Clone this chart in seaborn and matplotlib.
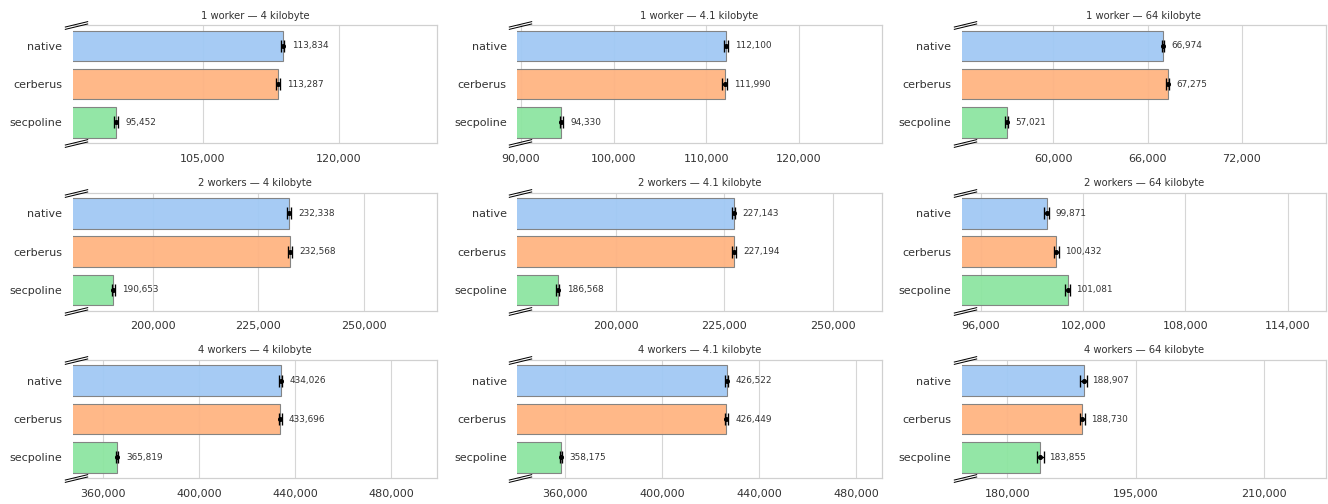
import matplotlib
matplotlib.use("Agg")
import matplotlib.pyplot as plt
from matplotlib.path import Path
from matplotlib.ticker import MaxNLocator, FuncFormatter
import numpy as np
import pandas as pd
import seaborn as sns

# Implementations compared in every panel
impls = ["native", "cerberus", "secpoline"]
workers = [1, 2, 4]
sizes = ["4", "4.1", "64"]

# Mean throughput per (workers, message size), ordered like impls
means = {
    (1, "4"): [113834, 113287, 95452],
    (1, "4.1"): [112100, 111990, 94330],
    (1, "64"): [66974, 67275, 57021],
    (2, "4"): [232338, 232568, 190653],
    (2, "4.1"): [227143, 227194, 186568],
    (2, "64"): [99871, 100432, 101081],
    (4, "4"): [434026, 433696, 365819],
    (4, "4.1"): [426522, 426449, 358175],
    (4, "64"): [188907, 188730, 183855],
}

# Half-width of the confidence interval for each mean
errors = {
    (1, "4"): [200, 200, 200],
    (1, "4.1"): [220, 250, 160],
    (1, "64"): [80, 80, 100],
    (2, "4"): [400, 400, 400],
    (2, "4.1"): [400, 400, 350],
    (2, "64"): [150, 170, 130],
    (4, "4"): [600, 600, 600],
    (4, "4.1"): [600, 600, 500],
    (4, "64"): [370, 300, 370],
}

sns.set_theme(style="whitegrid", rc={"grid.color": "#d6d6d6",
                                     "grid.linewidth": 1.0})
palette = sns.color_palette("pastel")[:3]

fig, axes = plt.subplots(3, 3, figsize=(16.6, 6.3), dpi=80)
fig.subplots_adjust(left=0.055, right=0.9985, top=0.950, bottom=0.0516,
                    wspace=0.22, hspace=0.42)

# Double slash used to flag the truncated value axis
break_path = Path(
    [(-1, -0.34), (1, 0.14), (-1, -0.14), (1, 0.34)],
    [Path.MOVETO, Path.LINETO, Path.MOVETO, Path.LINETO],
)

comma = FuncFormatter(lambda v, _: f"{v:,.0f}")

for r, w in enumerate(workers):
    for c, s in enumerate(sizes):
        ax = axes[r, c]
        vals = means[(w, s)]
        errs = errors[(w, s)]
        df = pd.DataFrame({"impl": impls, "value": vals})
        sns.barplot(data=df, x="value", y="impl", hue="impl", palette=palette,
                    order=impls, hue_order=impls, errorbar=None, legend=False,
                    saturation=1, alpha=0.95, edgecolor="#7f7f7f",
                    linewidth=1.0, ax=ax)
        ypos = np.arange(len(impls))
        ax.errorbar(vals, ypos, xerr=errs, fmt="o", color="black",
                    markersize=3.5, capsize=5, elinewidth=1.2, capthick=1.2,
                    zorder=5)
        for v, y in zip(vals, ypos):
            ax.annotate(f"{v:,}", (v, y), xytext=(8, 0),
                        textcoords="offset points", va="center", ha="left",
                        fontsize=8, color="#333333")

        ax.set_xlim(min(vals) * 0.95, max(vals) * 1.15)
        ax.xaxis.set_major_locator(
            MaxNLocator(nbins=4, steps=[1, 1.5, 2, 2.5, 3, 4, 5, 6, 8, 10]))
        ax.xaxis.set_major_formatter(comma)
        ax.set_xlabel("")
        ax.set_ylabel("")
        ax.tick_params(axis="both", labelsize=10, colors="#333333", length=0,
                       pad=9.5)
        ax.spines["left"].set_visible(False)
        for sp in ("top", "right", "bottom"):
            ax.spines[sp].set_color("#d0d0d0")
            ax.spines[sp].set_linewidth(1.1)
        ax.set_axisbelow(True)

        plural = "worker" if w == 1 else "workers"
        ax.set_title(f"{w} {plural} \u2014 {s} kilobyte", fontsize=9,
                     color="#333333", pad=6)

        for yb in (0.0, 1.0):
            ax.plot([0.008], [yb], marker=break_path, markersize=21,
                    color="black", mec="black", mew=0.9, linestyle="none",
                    transform=ax.transAxes, clip_on=False, zorder=10)

fig.savefig("out.png", dpi=80)
